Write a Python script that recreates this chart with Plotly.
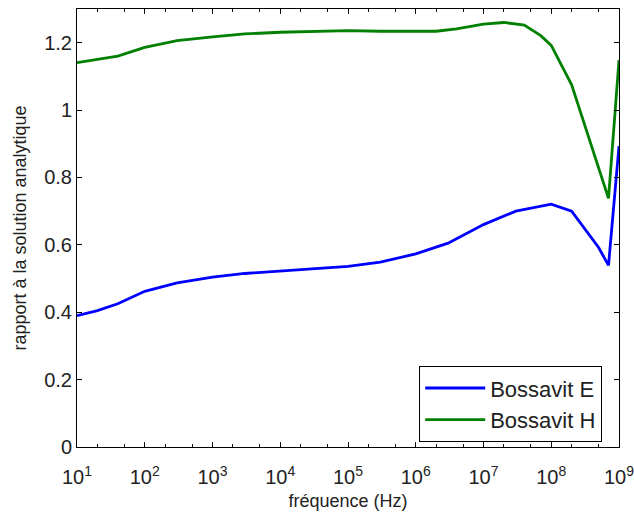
import plotly.graph_objects as go

# Bossavit E (blue)
freq_e = [10, 20, 40, 100, 300, 1e3, 3e3, 1e4, 3e4, 1e5, 3e5, 1e6, 3e6, 1e7, 3e7, 1e8, 2e8, 5e8, 7e8, 1e9]
ratio_e = [0.390, 0.405, 0.425, 0.462, 0.487, 0.504, 0.515, 0.522, 0.528, 0.536, 0.549, 0.573,
           0.605, 0.660, 0.700, 0.721, 0.700, 0.592, 0.539, 0.893]

# Bossavit H (green)
freq_h = [10, 40, 100, 200, 300, 1e3, 3e3, 1e4, 1e5, 3e5, 1e6, 2e6, 4e6, 1e7, 2e7, 4e7, 7e7,
          1e8, 2e8, 3e8, 5e8, 7e8, 1e9]
ratio_h = [1.141, 1.160, 1.186, 1.200, 1.206, 1.217, 1.226, 1.231, 1.236, 1.234, 1.233, 1.234,
           1.241, 1.255, 1.260, 1.252, 1.221, 1.192, 1.075, 0.966, 0.828, 0.738, 1.148]

x_tickvals = [1e1, 1e2, 1e3, 1e4, 1e5, 1e6, 1e7, 1e8, 1e9]
x_ticktext = ["10<sup>1</sup>", "10<sup>2</sup>", "10<sup>3</sup>", "10<sup>4</sup>", "10<sup>5</sup>",
              "10<sup>6</sup>", "10<sup>7</sup>", "10<sup>8</sup>", "10<sup>9</sup>"]
y_tickvals = [0, 0.2, 0.4, 0.6, 0.8, 1.0, 1.2]
y_ticktext = ["0", "0.2", "0.4", "0.6", "0.8", "1", "1.2"]

FONT = "Liberation Sans, Arial, sans-serif"

fig = go.Figure()
fig.add_trace(go.Scatter(x=freq_e, y=ratio_e, mode="lines", name="Bossavit E",
                         line=dict(color="#0000FF", width=2.8)))
fig.add_trace(go.Scatter(x=freq_h, y=ratio_h, mode="lines", name="Bossavit H",
                         line=dict(color="#008000", width=2.8)))

fig.update_layout(
    width=634, height=514,
    margin=dict(l=77, r=15, t=9, b=67),
    paper_bgcolor="white", plot_bgcolor="white",
    font=dict(family=FONT, color="#222222", size=20),
    showlegend=True,
    legend=dict(x=0.969, y=0.011, xanchor="right", yanchor="bottom",
                bgcolor="white", bordercolor="black", borderwidth=1,
                font=dict(size=22, family=FONT, color="#222222"),
                itemwidth=60, tracegroupgap=0),
)
fig.update_xaxes(
    type="log", range=[1, 9], automargin=False,
    tickvals=x_tickvals, ticktext=x_ticktext,
    ticks="inside", ticklen=5, tickcolor="black",
    minor=dict(ticks="inside", ticklen=3, tickcolor="black", showgrid=False),
    showline=True, linecolor="black", linewidth=1, mirror="ticks",
    showgrid=False, zeroline=False,
    tickfont=dict(size=20), ticklabelstandoff=12, ticklabeloverflow="allow",
    title=dict(text="fréquence (Hz)", font=dict(size=18), standoff=7),
)
fig.update_yaxes(
    range=[0, 1.3], automargin=False,
    tickvals=y_tickvals, ticktext=y_ticktext,
    ticks="inside", ticklen=5, tickcolor="black",
    showline=True, linecolor="black", linewidth=1, mirror="ticks",
    showgrid=False, zeroline=False,
    tickfont=dict(size=20),
    title=dict(text="rapport à la solution analytique", font=dict(size=18), standoff=12),
)

fig.write_html("out.html", config={"displayModeBar": False},
               post_script="document.body.style.margin='0';document.body.style.padding='0';")
